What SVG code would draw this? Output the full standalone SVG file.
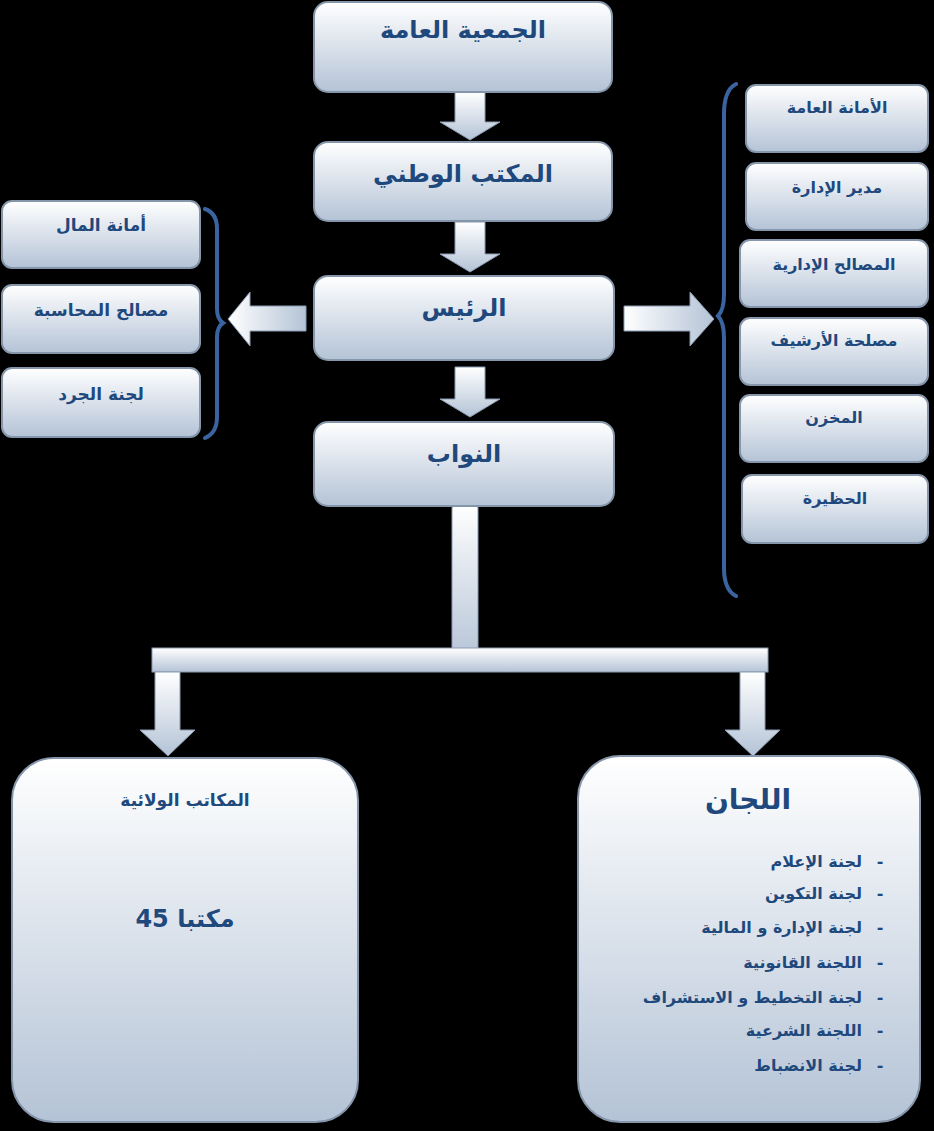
<svg xmlns="http://www.w3.org/2000/svg" width="934" height="1131" viewBox="0 0 934 1131">
<defs>
<linearGradient id="g" x1="0" y1="0" x2="0" y2="1"><stop offset="0" stop-color="#ffffff"/><stop offset="1" stop-color="#b4c3d6"/></linearGradient>
<linearGradient id="gh" x1="0" y1="0" x2="1" y2="0"><stop offset="0" stop-color="#ffffff"/><stop offset="1" stop-color="#b4c3d6"/></linearGradient>
<style>
.b{fill:url(#g);stroke:#8595aa;stroke-width:2}
.a{fill:url(#g);stroke:#8a9ab0;stroke-width:1}
.ah{fill:url(#gh);stroke:#8a9ab0;stroke-width:1}
.br{fill:none;stroke:#3a64a0;stroke-width:4;stroke-linecap:round}
text{font-family:"DejaVu Sans",sans-serif;font-weight:bold;fill:#1f497d;text-anchor:middle}
.t1{font-size:24px}.t2{font-size:17px}.t3{font-size:16px}
.l{font-size:16px;text-anchor:end}
</style>
</defs>
<rect width="934" height="1131" fill="#000"/>
<g id="connectors">
<path class="a" d="M455 92h30v30h15l-30 18l-30-18h15z"/>
<path class="a" d="M455 222h30v32h15l-30 18l-30-18h15z"/>
<path class="a" d="M455 367h30v32h15l-30 18l-30-18h15z"/>
<path class="ah" d="M306 306v25h-56v15l-22-27l22-27v14z"/>
<path class="ah" d="M624 306v25h66v15l24-27l-24-27v14z"/>
<rect class="a" x="452" y="504" width="26" height="158" rx="4"/>
<rect class="a" x="152" y="648" width="616" height="24"/>
<path class="a" d="M155 672h25v58h15l-27 26l-28-26h15z"/>
<path class="a" d="M740 672h25v58h15l-27 26l-28-26h15z"/>
<path class="br" d="M205 209q12 4 12 20v80q0 10 6 14q-6 4-6 14v80q0 16-12 21"/>
<path class="br" d="M736 84q-12 6-12 30v180q0 16-6 22q6 6 6 22v230q0 22 12 28"/>
</g>
<g id="n1"><rect class="b" x="314" y="2" width="298" height="90" rx="14"/><text class="t1" x="463" y="38">الجمعية العامة</text></g>
<g id="n2"><rect class="b" x="314" y="142" width="298" height="79" rx="14"/><text class="t1" x="463" y="182">المكتب الوطني</text></g>
<g id="n3"><rect class="b" x="314" y="276" width="300" height="84" rx="14"/><text class="t1" x="464" y="316">الرئيس</text></g>
<g id="n4"><rect class="b" x="314" y="422" width="300" height="84" rx="14"/><text class="t1" x="464" y="462">النواب</text></g>
<g id="l1"><rect class="b" x="2" y="201" width="198" height="67" rx="10"/><text class="t2" x="101" y="231">أمانة المال</text></g>
<g id="l2"><rect class="b" x="2" y="285" width="198" height="68" rx="10"/><text class="t2" x="101" y="316">مصالح المحاسبة</text></g>
<g id="l3"><rect class="b" x="2" y="368" width="198" height="69" rx="10"/><text class="t2" x="101" y="400">لجنة الجرد</text></g>
<g id="r1"><rect class="b" x="746" y="85" width="182" height="67" rx="10"/><text class="t3" x="837" y="113">الأمانة  العامة</text></g>
<g id="r2"><rect class="b" x="746" y="163" width="182" height="67" rx="10"/><text class="t3" x="837" y="193">مدير الإدارة</text></g>
<g id="r3"><rect class="b" x="740" y="240" width="188" height="67" rx="10"/><text class="t3" x="834" y="270">المصالح الإدارية</text></g>
<g id="r4"><rect class="b" x="740" y="318" width="188" height="67" rx="10"/><text class="t3" x="834" y="346">مصلحة الأرشيف</text></g>
<g id="r5"><rect class="b" x="740" y="395" width="188" height="67" rx="10"/><text class="t3" x="834" y="423">المخزن</text></g>
<g id="r6"><rect class="b" x="742" y="475" width="186" height="68" rx="10"/><text class="t3" x="835" y="504">الحظيرة</text></g>
<g id="wil"><rect class="b" x="12" y="758" width="346" height="364" rx="42"/><text class="t2" x="185" y="806">المكاتب الولائية</text><text class="t1" x="185" y="927">45 مكتبا</text></g>
<g id="lij"><rect class="b" x="578" y="756" width="342" height="366" rx="42"/><text class="t1" x="748" y="809" style="font-size:28px">اللجان</text>
<text class="l" x="880" y="867" style="text-anchor:middle">-</text><text class="l" x="862" y="867">لجنة الإعلام</text>
<text class="l" x="880" y="899" style="text-anchor:middle">-</text><text class="l" x="862" y="899">لجنة التكوين</text>
<text class="l" x="880" y="933" style="text-anchor:middle">-</text><text class="l" x="862" y="933">لجنة الإدارة و المالية</text>
<text class="l" x="880" y="968" style="text-anchor:middle">-</text><text class="l" x="862" y="968">اللجنة القانونية</text>
<text class="l" x="880" y="1003" style="text-anchor:middle">-</text><text class="l" x="862" y="1003">لجنة التخطيط و الاستشراف</text>
<text class="l" x="880" y="1036" style="text-anchor:middle">-</text><text class="l" x="862" y="1036">اللجنة الشرعية</text>
<text class="l" x="880" y="1071" style="text-anchor:middle">-</text><text class="l" x="862" y="1071">لجنة الانضباط</text>
</g>
</svg>
